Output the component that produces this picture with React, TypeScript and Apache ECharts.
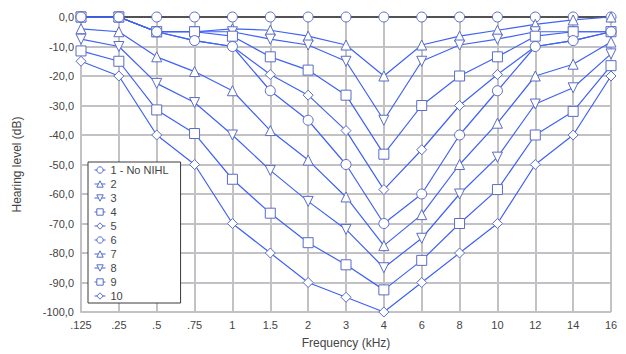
import React, { useEffect, useRef } from "react";
import * as echarts from "echarts";

const categories = [".125", ".25", ".5", ".75", "1", "1.5", "2", "3", "4", "6", "8", "10", "12", "14", "16"];
const seriesNames = ["1 - No NIHL", "2", "3", "4", "5", "6", "7", "8", "9", "10"];

const s1 = [0, 0, 0, 0, 0, 0, 0, 0, 0, 0, 0, 0, 0, 0, 0];
const s2 = [0, 0, -5, -5, -4, -4.5, -6.5, -9.5, -20, -9.5, -6.5, -4.5, -2.5, -1, 0];
const s3 = [0, 0, -5, -5, -5, -7.5, -9.5, -15, -35, -15, -9.5, -7.5, -5, -5, -5];
const s4 = [0, 0, -5, -5, -6.5, -13.5, -18, -26.5, -46.5, -30, -20, -13.5, -6.5, -5, -5];
const s5 = [0, 0, -5, -8, -10, -19.5, -26.5, -38.5, -58.5, -45, -30, -19.5, -10, -8, -5];
const s6 = [0, 0, -5, -8, -10, -25, -35, -50, -70, -60, -40, -25, -10, -8, -5];
const s7 = [-4, -5, -13.5, -18.5, -25, -38.5, -48.5, -61, -77.5, -67, -50, -36, -20, -16, -8.5];
const s8 = [-7.5, -10, -22.5, -29, -40, -52, -62.5, -72, -85, -75, -60, -47.5, -29.5, -24, -12.5];
const s9 = [-11.5, -15, -31.5, -39.5, -55, -66.5, -76.5, -84, -92.5, -82.5, -70, -58.5, -40, -32, -16.5];
const s10 = [-15, -20, -40, -50, -70, -80, -90, -95, -100, -90, -80, -70, -50, -40, -20];

const seriesValues = [s1, s2, s3, s4, s5, s6, s7, s8, s9, s10];
const symbolCycle = ["circle", "triangle", "triangle", "rect", "diamond"];
const rotateCycle = [0, 0, 180, 0, 0];

const LINE = "#3f62f2";
const MARK = "#5a6cc6";
const FONT = "'Liberation Sans', Arial, Helvetica, sans-serif";

export default function App() {
  const ref = useRef<HTMLDivElement>(null);
  useEffect(() => {
    if (!ref.current) return;
    const chart = echarts.init(ref.current, null, { renderer: "svg" });
    const series = seriesValues.map((vals, i) => ({
      name: seriesNames[i],
      type: "line",
      data: vals,
      symbol: symbolCycle[i % 5],
      symbolRotate: rotateCycle[i % 5],
      symbolSize: 10,
      showAllSymbol: true,
      lineStyle: { color: i === 0 ? "#4a4a4a" : LINE, width: 1.2, type: i === 0 ? [2, 1] : "solid" },
      itemStyle: { color: "#ffffff", borderColor: MARK, borderWidth: 1 },
      emphasis: { disabled: true },
    }));
    chart.setOption({
      animation: false,
      textStyle: { fontFamily: FONT },
      grid: { left: 81, right: 15, top: 17, bottom: 39, containLabel: false },
      legend: {
        orient: "vertical",
        left: 88,
        top: 162,
        itemWidth: 11,
        itemHeight: 8,
        itemGap: 0,
        padding: [1, 12, 0, 6],
        backgroundColor: "#ffffff",
        borderColor: "#3a3a3a",
        borderWidth: 1,
        borderRadius: 0,
        itemStyle: { color: "#ffffff", borderColor: MARK, borderWidth: 1 },
        textStyle: { fontSize: 11, color: "#444", lineHeight: 14, fontFamily: FONT },
        data: seriesNames.map((n) => ({ name: n, lineStyle: { color: LINE, width: 1, type: "solid" } })),
      },
      xAxis: {
        type: "category",
        data: categories,
        boundaryGap: false,
        name: "Frequency (kHz)",
        nameLocation: "middle",
        nameGap: 25,
        nameTextStyle: { fontSize: 12, color: "#444", fontFamily: FONT },
        axisLine: { show: true, lineStyle: { color: "#555", width: 2 } },
        axisTick: { show: false },
        axisLabel: { fontSize: 11, color: "#444", margin: 7, fontFamily: FONT },
        splitLine: { show: true, lineStyle: { color: "#c2c2c6", width: 2 } },
      },
      yAxis: {
        type: "value",
        min: -100,
        max: 0,
        interval: 10,
        name: "Hearing level (dB)",
        nameLocation: "middle",
        nameGap: 58,
        nameTextStyle: { fontSize: 12, color: "#444", fontFamily: FONT },
        axisLine: { show: true, lineStyle: { color: "#c2c2c6", width: 2 } },
        axisTick: { show: false },
        axisLabel: {
          fontSize: 11,
          color: "#444",
          margin: 7,
          fontFamily: FONT,
          formatter: (v: number) => v.toFixed(1).replace(".", ","),
        },
        splitLine: { show: true, lineStyle: { color: "#c2c2c6", width: 2 } },
      },
      series,
    });
    return () => chart.dispose();
  }, []);
  return (
    <div
      ref={ref}
      style={{ position: "fixed", left: 0, top: 0, width: 626, height: 354, background: "#fff" }}
    />
  );
}
